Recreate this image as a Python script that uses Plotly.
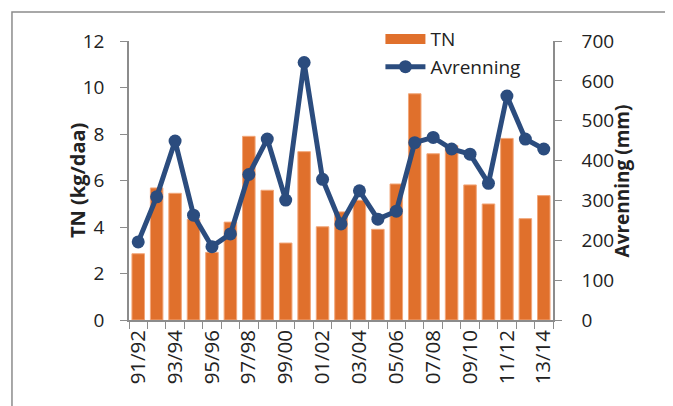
import plotly.graph_objects as go

# seasons 91/92 .. 13/14
seasons = ["91/92", "92/93", "93/94", "94/95", "95/96", "96/97", "97/98", "98/99",
           "99/00", "00/01", "01/02", "02/03", "03/04", "04/05", "05/06", "06/07",
           "07/08", "08/09", "09/10", "10/11", "11/12", "12/13", "13/14"]
tn = [2.85, 5.68, 5.45, 4.33, 2.91, 4.21, 7.90, 5.58, 3.31, 7.24, 4.01, 4.65,
      5.15, 3.90, 5.85, 9.73, 7.15, 7.50, 5.81, 4.99, 7.81, 4.36, 5.35]
avrenning = [196, 309, 449, 263, 184, 216, 365, 454, 301, 646, 353, 241,
             324, 253, 273, 445, 458, 429, 416, 343, 562, 454, 429]
tick_labels = [s if i % 2 == 0 else "" for i, s in enumerate(seasons)]

FONT = "Open Sans"
TXT = "#222222"
AX = "#8c8c8c"
ORANGE = "#E0702C"
BLUE = "#2B4C7E"

fig = go.Figure()
fig.add_trace(go.Bar(name="TN", x=seasons, y=tn, yaxis="y", showlegend=False,
                     marker=dict(color=ORANGE, line=dict(color="#F2A77A", width=1))))
# legend entry for the bars drawn as a wide block, like the original
fig.add_trace(go.Scatter(name="TN", x=[None], y=[None], mode="lines",
                         line=dict(color=ORANGE, width=11)))
fig.add_trace(go.Scatter(name="Avrenning", x=seasons, y=avrenning, yaxis="y2",
                         mode="lines+markers",
                         line=dict(color=BLUE, width=5),
                         marker=dict(color=BLUE, size=13)))

# page body adds 8px offset, so margins are shifted by that amount
fig.update_layout(
    width=673, height=406,
    margin=dict(l=121, r=128, t=33, b=94, autoexpand=False),
    paper_bgcolor="white", plot_bgcolor="white",
    font=dict(family=FONT, size=19, color=TXT),
    bargap=0.32,
    showlegend=True,
    legend=dict(x=0.593, y=1.075, xanchor="left", yanchor="top",
                bgcolor="rgba(0,0,0,0)", font=dict(size=19),
                tracegroupgap=0, itemwidth=40),
    xaxis=dict(type="category", tickvals=seasons, ticktext=tick_labels,
               range=[-0.5, len(seasons) - 0.5], tickfont=dict(size=20.5),
               tickangle=-90, ticks="outside", tickson="boundaries", ticklen=7,
               tickcolor=AX, showline=True, linecolor=AX, linewidth=1.5,
               showgrid=False, zeroline=False, automargin=False),
    yaxis=dict(range=[0, 12], dtick=2, ticks="outside", ticklen=7, tickcolor=AX,
               showline=True, linecolor=AX, linewidth=1.5, showgrid=False,
               zeroline=False, ticklabelstandoff=12, automargin=False),
    yaxis2=dict(range=[0, 700], dtick=100, overlaying="y", side="right",
                ticks="outside", ticklen=7, tickcolor=AX, showline=True,
                linecolor=AX, linewidth=1.5, showgrid=False, zeroline=False,
                ticklabelstandoff=16, automargin=False),
    annotations=[
        dict(text="<b>TN (kg/daa)</b>", x=-0.158, y=0.5, xref="paper", yref="paper",
             textangle=-90, showarrow=False, font=dict(size=20)),
        dict(text="<b>Avrenning (mm)</b>", x=1.198, y=0.5, xref="paper", yref="paper",
             textangle=-90, showarrow=False, font=dict(size=19)),
    ],
    shapes=[dict(type="rect", xref="paper", yref="paper", x0=-0.276, y0=-2,
                 x1=3, y1=1.104, line=dict(color=AX, width=1.5), layer="below")],
)

fig.write_html("out.html")
